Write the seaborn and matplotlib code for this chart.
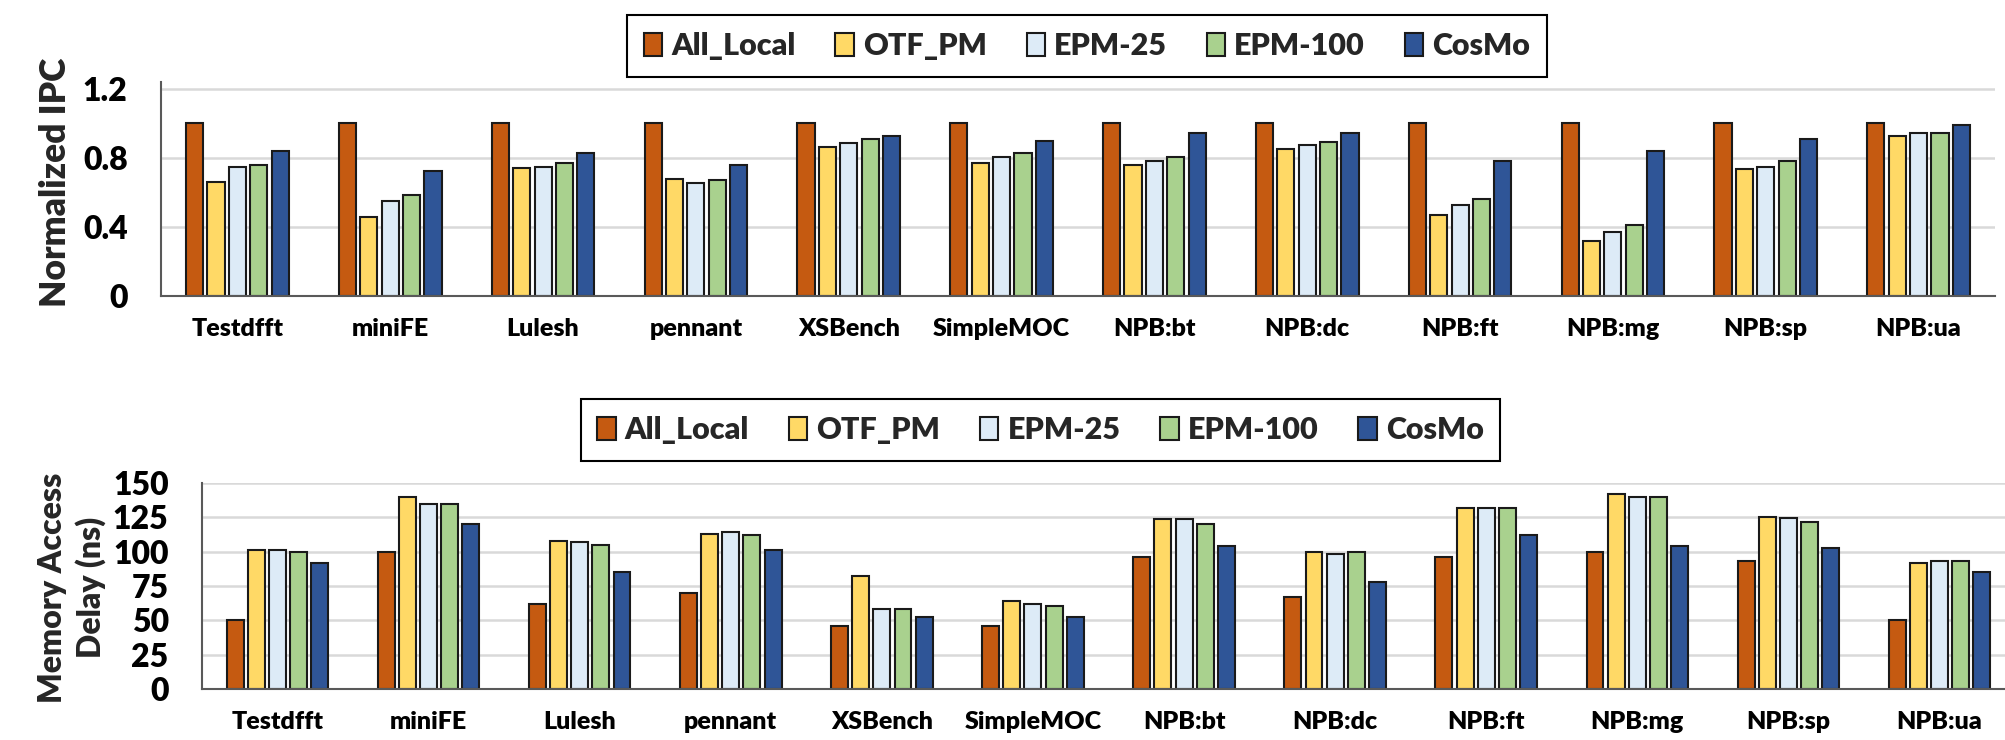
import numpy as np
import pandas as pd
import matplotlib
matplotlib.use("Agg")
import matplotlib.pyplot as plt
from matplotlib.font_manager import FontProperties
import seaborn as sns

# ---------------- data ----------------
benchmarks = ["Testdfft", "miniFE", "Lulesh", "pennant", "XSBench", "SimpleMOC",
              "NPB:bt", "NPB:dc", "NPB:ft", "NPB:mg", "NPB:sp", "NPB:ua"]
configs = ["All_Local", "OTF_PM", "EPM-25", "EPM-100", "CosMo"]

ipc_all_local = [1.0, 1.0, 1.0, 1.0, 1.0, 1.0, 1.0, 1.0, 1.0, 1.0, 1.0, 1.0]
ipc_otf_pm = [0.66, 0.46, 0.74, 0.68, 0.865, 0.77, 0.76, 0.85, 0.47, 0.32, 0.735, 0.93]
ipc_epm25 = [0.75, 0.55, 0.75, 0.655, 0.885, 0.805, 0.785, 0.875, 0.525, 0.37, 0.75, 0.945]
ipc_epm100 = [0.76, 0.585, 0.77, 0.67, 0.91, 0.83, 0.805, 0.895, 0.565, 0.41, 0.785, 0.945]
ipc_cosmo = [0.84, 0.725, 0.83, 0.76, 0.925, 0.90, 0.945, 0.945, 0.785, 0.84, 0.91, 0.99]

delay_all_local = [50, 100, 62, 70, 46, 46, 96, 67, 96, 100, 93, 50]
delay_otf_pm = [101, 140, 108, 113, 82, 64, 124, 100, 132, 142, 125.5, 92]
delay_epm25 = [101, 135, 107, 114.5, 58, 62, 124, 98.5, 132, 140, 124.5, 93]
delay_epm100 = [100, 135, 105, 112, 58, 60.5, 120, 100, 132, 140, 121.5, 93]
delay_cosmo = [92, 120, 85, 101, 52.5, 52.5, 104, 78, 112, 104, 102.5, 85]

ipc_ticks = [0, 0.4, 0.8, 1.2]
ipc_ticklabels = ["0", "0.4", "0.8", "1.2"]
delay_ticks = [0, 25, 50, 75, 100, 125, 150]
delay_ticklabels = ["0", "25", "50", "75", "100", "125", "150"]

colors = ["#C55A11", "#FFD966", "#DDEBF7", "#A9D18E", "#2F5597"]

# ---------------- style ----------------
sns.set_style("white")
plt.rcParams["font.family"] = ["Lato", "DejaVu Sans"]
plt.rcParams["font.weight"] = "heavy"

FONT = ["Lato", "DejaVu Sans"]
WT = "heavy"
GRID = "#d9d9d9"
AXC = "#595959"


def long_df(series):
    rows = []
    for cfg, vals in zip(configs, series):
        for b, v in zip(benchmarks, vals):
            rows.append({"bench": b, "config": cfg, "value": v})
    return pd.DataFrame(rows)


def draw(ax, series, ticks, ticklabels, ylim):
    df = long_df(series)
    sns.barplot(data=df, x="bench", y="value", hue="config",
                order=benchmarks, hue_order=configs, palette=colors,
                saturation=1, width=0.70, gap=0.2, errorbar=None,
                edgecolor="#1a1a1a", linewidth=1.5, ax=ax)
    handles, labels = ax.get_legend_handles_labels()
    if ax.get_legend() is not None:
        ax.get_legend().remove()
    ax.set_xlim(-0.5, len(benchmarks) - 0.5)
    ax.set_ylim(*ylim)
    ax.set_yticks(ticks)
    ax.set_yticklabels(ticklabels, fontsize=23, fontweight=WT, family=FONT)
    ax.set_xticks(range(len(benchmarks)))
    ax.set_xticklabels(benchmarks, fontsize=18, fontweight=WT, family=FONT)
    ax.set_xticks(np.arange(-0.5, len(benchmarks), 1.0), minor=True)
    ax.tick_params(axis="x", which="major", length=0, pad=16, colors="black")
    ax.tick_params(axis="x", which="minor", length=10, width=1.5, color=AXC)
    ax.tick_params(axis="y", length=0, pad=24, colors="black")
    ax.set_xlabel("")
    ax.set_ylabel("")
    ax.yaxis.grid(True, color=GRID, linewidth=1.8)
    ax.xaxis.grid(False)
    ax.set_axisbelow(True)
    for s in ["top", "right"]:
        ax.spines[s].set_visible(False)
    for s in ["left", "bottom"]:
        ax.spines[s].set_color(AXC)
        ax.spines[s].set_linewidth(1.5)
    return handles, labels


W, H = 2005, 740
fig = plt.figure(figsize=(W / 100, H / 100), dpi=100)

# top panel: x 161..1995, y 82..296 px
ax1 = fig.add_axes([161 / W, 1 - 296 / H, (1995 - 161) / W, (296 - 82) / H])
h1, l1 = draw(ax1, [ipc_all_local, ipc_otf_pm, ipc_epm25, ipc_epm100, ipc_cosmo],
              ipc_ticks, ipc_ticklabels, (0, 1.2 + 7 / 172.5))

# bottom panel: x 202..2015, y 483..689 px
ax2 = fig.add_axes([202 / W, 1 - 689 / H, (2015 - 202) / W, (689 - 483) / H])
h2, l2 = draw(ax2, [delay_all_local, delay_otf_pm, delay_epm25, delay_epm100, delay_cosmo],
              delay_ticks, delay_ticklabels, (0, 150))

fig.text(56 / W, 1 - 182.5 / H, "Normalized IPC", rotation=90, ha="center", va="center",
         fontsize=25.5, fontweight=WT, family=FONT)
fig.text(72 / W, 1 - 587.5 / H, "Memory Access\nDelay (ns)", rotation=90, ha="center",
         va="center", fontsize=23, fontweight=WT, family=FONT, linespacing=1.3,
         multialignment="center")

legprop = FontProperties(family=FONT, weight=WT, size=22)


def add_legend(handles, labels, cx, cy):
    leg = fig.legend(handles, labels, loc="center", bbox_to_anchor=(cx, cy),
                     bbox_transform=fig.transFigure, ncol=5, prop=legprop,
                     frameon=True, fancybox=False, edgecolor="black", framealpha=1,
                     borderpad=0.55, handlelength=0.6, handleheight=0.8,
                     handletextpad=0.3, columnspacing=1.3, borderaxespad=0)
    leg.get_frame().set_linewidth(1.5)
    return leg


add_legend(h1, l1, 1087 / W, 1 - 46 / H)
add_legend(h2, l2, 1040.5 / W, 1 - 430 / H)

fig.savefig("out.png", dpi=100)
